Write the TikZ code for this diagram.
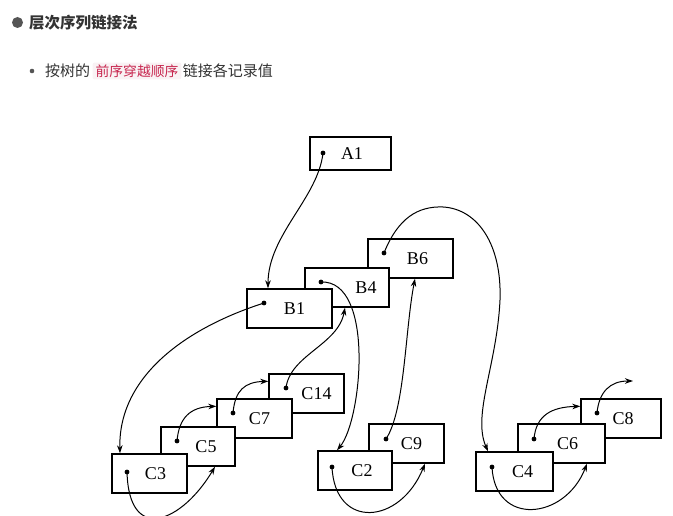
\documentclass[tikz,border=0pt]{standalone}
\usepackage{fontspec}
\setmainfont{Liberation Serif}
\newfontfamily\cjk{Noto Sans CJK SC}
\usetikzlibrary{arrows.meta,positioning}
\definecolor{listgray}{HTML}{333333}
\definecolor{bulletgray}{HTML}{555555}
\definecolor{codered}{HTML}{C7254E}
\definecolor{codebg}{HTML}{F9F2F4}

\begin{document}
\begin{tikzpicture}[
  x=1pt, y=-1pt,
  rec/.style={draw, line width=1.4pt, fill=white, minimum height=39pt, inner sep=0pt},
  tag/.style={font=\fontsize{18}{18}\selectfont, inner sep=0pt},
  link/.style={-{Stealth[length=8pt,width=5.5pt]}, line width=1pt},
  txt/.style={font=\cjk\fontsize{15}{17}\selectfont, text=listgray, inner sep=0pt, anchor=west},
  code/.style={txt, text=codered, fill=codebg, rounded corners=2pt, inner xsep=3pt, inner ysep=2pt, font=\cjk\fontsize{13.8}{16}\selectfont}
]
\clip (0,0) rectangle (673,516);

% heading and list line
\fill[bulletgray] (17.5,22.5) circle (5.5pt);
\node[txt, font=\cjk\bfseries\fontsize{15.5}{17}\selectfont] (title) at (29,23) {层次序列链接法};
\fill[bulletgray] (32,71) circle (2.3pt);
\node[txt] (l1) at (45,71) {按树的};
\node[code, right=2pt of l1] (l2) {前序穿越顺序};
\node[txt, right=1pt of l2] (l3) {链接各记录值};

% records, back to front
\node[rec, minimum width=81pt, minimum height=33pt, label={[tag, xshift=1.5pt]center:A1}] (A1) at (350.5,153.5) {};
\node[rec, minimum width=85pt, label={[tag, xshift=7pt]center:B6}] (B6) at (410.5,258.5) {};
\node[rec, minimum width=84pt, label={[tag, xshift=19pt]center:B4}] (B4) at (347,287.5) {};
\node[rec, minimum width=85pt, label={[tag, xshift=5pt]center:B1}] (B1) at (289.5,308.5) {};
\node[rec, minimum width=75pt, label={[tag, xshift=10pt]center:C14}] (C14) at (306.5,393.5) {};
\node[rec, minimum width=75pt, label={[tag, xshift=5pt]center:C7}] (C7) at (254.5,418.5) {};
\node[rec, minimum width=74pt, label={[tag, xshift=8pt]center:C5}] (C5) at (198,446.5) {};
\node[rec, minimum width=75pt, label={[tag, xshift=6pt]center:C3}] (C3) at (149.5,473.5) {};
\node[rec, minimum width=75pt, label={[tag, xshift=5pt]center:C9}] (C9) at (406.5,443.5) {};
\node[rec, minimum width=74pt, label={[tag, xshift=7pt]center:C2}] (C2) at (355,470.5) {};
\node[rec, minimum width=80pt, label={[tag, xshift=2pt]center:C8}] (C8) at (621,418.5) {};
\node[rec, minimum width=87pt, label={[tag, xshift=6pt]center:C6}] (C6) at (561.5,443.5) {};
\node[rec, minimum width=77pt, label={[tag, xshift=8pt]center:C4}] (C4) at (514.5,471.5) {};

% link fields
\coordinate (pA1) at (323,153);
\coordinate (pB6) at (384,253);
\coordinate (pB4) at (321,282);
\coordinate (pB1) at (264,303);
\coordinate (pC14) at (286,388);
\coordinate (pC7) at (233,413);
\coordinate (pC5) at (177,441);
\coordinate (pC3) at (127,472);
\coordinate (pC9) at (386,439);
\coordinate (pC2) at (332,467);
\coordinate (pC8) at (597,413);
\coordinate (pC6) at (534,439);
\coordinate (pC4) at (492,467);
\coordinate (tail) at (633,381);
\foreach \n in {A1,B6,B4,B1,C14,C7,C5,C3,C9,C2,C8,C6,C4}
  \fill (p\n) circle (2.4pt);

\draw[link] (pA1) .. controls (318,198) and (268,235) .. ([xshift=-21.5pt]B1.north);
\draw[link] (pB1) .. controls (180,330) and (118,380) .. ([xshift=-29.5pt]C3.north);
\draw[link] (pC3) .. controls (129,545) and (182,522) .. ([xshift=17pt]C5.south);
\draw[link] (pC5) .. controls (179,418) and (190,407) .. ([yshift=-8pt]C7.north west);
\draw[link] (pC7) .. controls (235,390) and (245,382) .. ([yshift=-8pt]C14.north west);
\draw[link] (pC14) .. controls (290,355) and (338,345) .. ([xshift=-2pt]B4.south);
\draw[link] (pB4) .. controls (375,280) and (362,420) .. ([xshift=-18pt]C2.north);
\draw[link] (pC2) .. controls (335,530) and (400,525) .. ([xshift=18.5pt]C9.south);
\draw[link] (pC9) .. controls (405,410) and (405,330) .. ([xshift=4.5pt]B6.south);
\draw[link] (pB6) .. controls (398,218) and (418,206) .. (443,207)
  .. controls (478,209) and (502,245) .. (500,300)
  .. controls (497,365) and (472,415) .. ([xshift=-26.5pt]C4.north);
\draw[link] (pC4) .. controls (495,527) and (565,520) .. ([xshift=25.5pt]C6.south);
\draw[link] (pC6) .. controls (536,415) and (552,407) .. ([yshift=-8pt]C8.north west);
\draw[link] (pC8) .. controls (599,392) and (610,381) .. (tail);
\end{tikzpicture}
\end{document}
